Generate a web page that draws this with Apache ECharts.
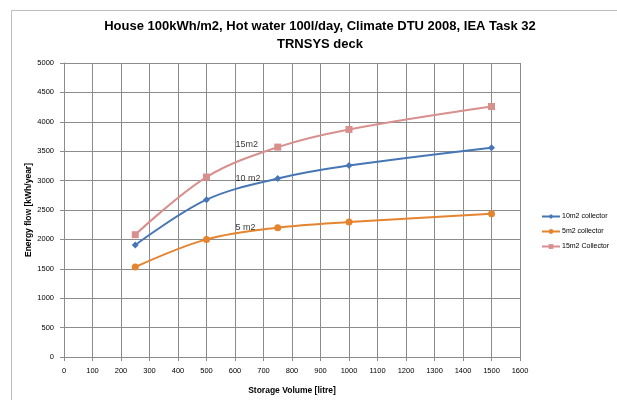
<!DOCTYPE html>
<html>
<head>
<meta charset="utf-8">
<script src="https://cdn.jsdelivr.net/npm/echarts@6/dist/echarts.min.js"></script>
<style>
html,body{margin:0;padding:0;background:#fff;}
#chart{width:617px;height:400px;}
</style>
</head>
<body>
<div id="chart"></div>
<script>
// Storage volumes [litre] and annual energy yield [kWh/year] per collector size
const storageVolume = [250, 500, 750, 1000, 1500];
const collector10 = [1905, 2675, 3035, 3255, 3560];
const collector5 = [1530, 2000, 2200, 2295, 2435];
const collector15 = [2080, 3060, 3570, 3870, 4260];

const seriesNames = ['10m2 collector', '5m2 collector', '15m2 Collector'];

// In-plot curve annotations: [volume, energy, text]
const curveNotes = [
  [602, 3612, '15m2'],
  [602, 3035, '10 m2'],
  [602, 2209, '5 m2']
];

const FONT = '"Liberation Sans", Arial, sans-serif';
const gridColor = '#8c8c8c';

const toPairs = vals => storageVolume.map((v, i) => [v, vals[i]]);
const plain = v => String(v);

const chart = echarts.init(document.getElementById('chart'), null, {renderer: 'canvas'});
chart.setOption({
  backgroundColor: '#fff',
  animation: false,
  title: {
    text: 'House 100kWh/m2, Hot water 100l/day, Climate DTU 2008, IEA Task 32\nTRNSYS deck',
    left: 315,
    top: 12,
    textAlign: 'center',
    textStyle: {fontFamily: FONT, fontSize: 13, fontWeight: 'bold', color: '#000', lineHeight: 18}
  },
  graphic: [{
    type: 'rect',
    shape: {x: 11.5, y: 10.5, width: 640, height: 420},
    style: {fill: 'none', stroke: '#bdbdbd', lineWidth: 1},
    silent: true,
    z: -1
  }],
  legend: {
    data: seriesNames,
    orient: 'vertical',
    left: 536,
    top: 208,
    itemWidth: 18,
    itemHeight: 6,
    itemGap: 8,
    textStyle: {fontFamily: FONT, fontSize: 7, color: '#000', padding: [0, 0, 0, -3]}
  },
  grid: {left: 64, right: 97, top: 63, bottom: 40, containLabel: false},
  xAxis: {
    type: 'value',
    min: 0,
    max: 1600,
    interval: 100,
    name: 'Storage Volume [litre]',
    nameLocation: 'middle',
    nameGap: 29,
    nameMoveOverlap: false,
    nameTextStyle: {fontFamily: FONT, fontSize: 8.5, fontWeight: 'bold', color: '#000'},
    axisLine: {lineStyle: {color: gridColor, width: 1}},
    axisTick: {show: true, length: 4, lineStyle: {color: gridColor}},
    axisLabel: {fontFamily: FONT, fontSize: 7.5, color: '#000', margin: 10, formatter: plain},
    splitLine: {show: true, lineStyle: {color: gridColor, width: 1}}
  },
  yAxis: {
    type: 'value',
    min: 0,
    max: 5000,
    interval: 500,
    name: 'Energy flow [kWh/year]',
    nameLocation: 'middle',
    nameGap: 31,
    nameMoveOverlap: false,
    nameTextStyle: {fontFamily: FONT, fontSize: 8.5, fontWeight: 'bold', color: '#000'},
    axisLine: {show: true, lineStyle: {color: gridColor, width: 1}},
    axisTick: {show: true, length: 4, lineStyle: {color: gridColor}},
    axisLabel: {fontFamily: FONT, fontSize: 7.5, color: '#000', margin: 10, formatter: plain},
    splitLine: {show: true, lineStyle: {color: gridColor, width: 1}}
  },
  series: [
    {
      name: seriesNames[0],
      type: 'line',
      data: toPairs(collector10),
      smooth: 0.35,
      symbol: 'diamond',
      symbolSize: 7,
      lineStyle: {color: '#4676b5', width: 2},
      itemStyle: {color: '#4676b5'}
    },
    {
      name: seriesNames[1],
      type: 'line',
      data: toPairs(collector5),
      smooth: 0.35,
      symbol: 'circle',
      symbolSize: 7,
      lineStyle: {color: '#e5842f', width: 2},
      itemStyle: {color: '#e5842f'}
    },
    {
      name: seriesNames[2],
      type: 'line',
      data: toPairs(collector15),
      smooth: 0.35,
      symbol: 'rect',
      symbolSize: 7,
      lineStyle: {color: '#d7908e', width: 2},
      itemStyle: {color: '#d7908e'}
    },
    {
      name: 'notes',
      type: 'scatter',
      data: curveNotes.map(n => ({value: [n[0], n[1]], label: {formatter: n[2]}})),
      symbolSize: 0,
      silent: true,
      label: {
        show: true,
        position: 'right',
        distance: 0,
        fontFamily: FONT,
        fontSize: 9,
        color: '#000'
      },
      z: 5
    }
  ]
});
</script>
</body>
</html>
